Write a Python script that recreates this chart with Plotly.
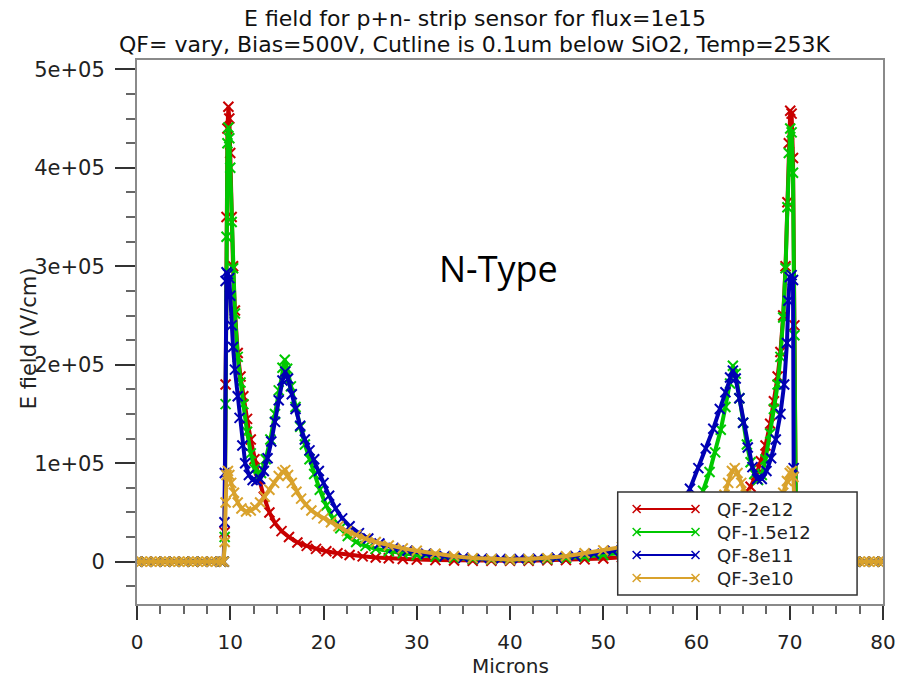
import plotly.graph_objects as go

# ---------------- data ----------------
x_red = [0, 1, 2, 3, 4, 5, 6, 7, 8, 9, 9.3, 9.4, 9.5, 9.6, 9.7, 9.8, 9.9, 10.0, 10.15, 10.3,
         10.5, 10.8, 11.1, 11.4, 11.8, 12.2, 12.6, 13.1, 13.6, 14.2, 14.8, 15.5, 16.3, 17.2,
         18.2, 19.2, 20.3, 21.5, 22.8, 24.2, 25.6, 27, 28.5, 30, 32, 34, 36, 38, 40, 42, 44,
         46, 48, 50, 52, 54, 56, 57.5, 59, 60.5, 62, 63, 64, 65, 65.8, 66.4, 66.9, 67.4, 67.9,
         68.3, 68.7, 69.0, 69.3, 69.55, 69.75, 69.9, 70.05, 70.2, 70.35, 70.5, 70.6, 70.7,
         71, 72, 73, 74, 75, 76, 77, 78, 79, 80]
y_red = [0, 0, 0, 0, 0, 0, 0, 0, 0, 0, 0, 30000, 180000, 350000, 440000, 462000, 450000,
         415000, 350000, 300000, 255000, 212000, 188000, 168000, 145000, 124000, 104000,
         84000, 66000, 50000, 39000, 31000, 25000, 19500, 16000, 13000, 10500, 8500, 6800,
         5400, 4300, 3400, 2700, 2100, 1600, 1200, 1000, 900, 900, 1000, 1300, 1700, 2300,
         3200, 4500, 6000, 8500, 11000, 15000, 21000, 31000, 40000, 52000, 65000, 76000,
         88000, 102000, 118000, 140000, 163000, 188000, 213000, 250000, 300000, 365000,
         425000, 458000, 455000, 410000, 240000, 60000, 0,
         0, 0, 0, 0, 0, 0, 0, 0, 0, 0]

x_green = [0, 1, 2, 3, 4, 5, 6, 7, 8, 9, 9.3, 9.4, 9.5, 9.6, 9.7, 9.8, 9.9, 10.0, 10.15,
           10.3, 10.5, 10.8, 11.1, 11.4, 11.8, 12.2, 12.6, 12.9, 13.3, 13.8, 14.3, 14.8,
           15.2, 15.6, 15.85, 16.1, 16.5, 17.0, 17.5, 18.0, 18.5, 19.0, 19.6, 20.3, 21.0,
           21.8, 22.6, 23.5, 24.5, 25.6, 27, 28.5, 30, 32, 34, 36, 38, 40, 42, 44, 46, 48,
           50, 52, 54, 55.5, 56.5, 57.5, 58.5, 59.3, 60, 60.7, 61.4, 62.0, 62.6, 63.1, 63.6,
           63.9, 64.2, 64.6, 65.0, 65.4, 65.8, 66.2, 66.6, 67.0, 67.4, 67.9, 68.3, 68.7,
           69.0, 69.3, 69.55, 69.75, 69.9, 70.05, 70.2, 70.35, 70.5, 70.6, 70.7,
           71, 72, 73, 74, 75, 76, 77, 78, 79, 80]
y_green = [0, 0, 0, 0, 0, 0, 0, 0, 0, 0, 0, 25000, 160000, 330000, 425000, 441000, 430000,
           400000, 345000, 298000, 252000, 208000, 182000, 160000, 132000, 110000, 94000,
           87000, 90000, 104000, 124000, 150000, 174000, 197000, 205000, 196000, 178000,
           157000, 137000, 119000, 104000, 89000, 73000, 57000, 44000, 34000, 26000, 20000,
           16000, 13000, 10500, 8500, 6800, 5000, 3600, 2700, 2100, 1900, 2100, 2700, 3600,
           5000, 6800, 9000, 12500, 16500, 21000, 27000, 36000, 46000, 58000, 72000, 91000,
           111000, 134000, 157000, 181000, 199000, 191000, 166000, 141000, 119000, 101000,
           89000, 83000, 88000, 104000, 130000, 155000, 180000, 208000, 248000, 298000,
           360000, 415000, 440000, 436000, 395000, 230000, 50000, 0,
           0, 0, 0, 0, 0, 0, 0, 0, 0, 0]

x_blue = [0, 1, 2, 3, 4, 5, 6, 7, 8, 9, 9.3, 9.38, 9.42, 9.5, 9.6, 9.75, 9.9, 10.0, 10.15,
          10.3, 10.5, 10.8, 11.0, 11.3, 11.6, 12.0, 12.4, 12.8, 13.2, 13.6, 14.0, 14.4,
          14.8, 15.2, 15.6, 15.9, 16.2, 16.6, 17.0, 17.5, 18.0, 18.5, 19.0, 19.5, 20.0,
          20.6, 21.3, 22.0, 22.8, 23.8, 24.8, 26, 27.5, 29, 31, 33, 35, 37, 39, 41, 43, 45,
          47, 49, 51, 53, 55, 56.5, 57.5, 58.4, 59.3, 60.2, 61.0, 61.8, 62.5, 63.1, 63.6,
          63.9, 64.2, 64.6, 65.0, 65.5, 66.0, 66.5, 67.0, 67.5, 68.0, 68.5, 69.0, 69.4,
          69.7, 69.85, 70.0, 70.2, 70.35, 70.42, 70.5, 70.6,
          71, 72, 73, 74, 75, 76, 77, 78, 79, 80]
y_blue = [0, 0, 0, 0, 0, 0, 0, 0, 0, 0, 0, 40000, 90000, 285000, 294000, 292000, 288000,
          270000, 240000, 218000, 195000, 168000, 146000, 118000, 100000, 88000, 83000,
          82000, 84000, 92000, 105000, 122000, 142000, 164000, 184000, 193000, 186000,
          170000, 155000, 138000, 124000, 113000, 104000, 92000, 80000, 67000, 54000,
          44000, 36000, 29000, 23500, 18500, 14000, 11000, 8000, 5600, 4000, 3100, 2700,
          2700, 3100, 4100, 5800, 8200, 11000, 15000, 21000, 29000, 39000, 54000, 74000,
          95000, 115000, 135000, 155000, 172000, 187000, 194000, 186000, 166000, 141000,
          116000, 96000, 84000, 84000, 92000, 105000, 124000, 150000, 180000, 222000,
          265000, 289000, 291000, 286000, 95000, 30000, 0,
          0, 0, 0, 0, 0, 0, 0, 0, 0, 0]

x_gold = [0, 0.5, 1, 1.5, 2, 2.5, 3, 3.5, 4, 4.5, 5, 5.5, 6, 6.5, 7, 7.5, 8, 8.5, 9, 9.3,
          9.4, 9.5, 9.6, 9.75, 9.9, 10.1, 10.4, 10.8, 11.2, 11.7, 12.2, 12.7, 13.2, 13.7,
          14.2, 14.7, 15.2, 15.6, 15.9, 16.2, 16.6, 17.1, 17.6, 18.1, 18.7, 19.3, 20.0,
          20.8, 21.6, 22.5, 23.5, 24.5, 25.6, 27, 28.5, 30, 32, 34, 36, 38, 40, 42, 44, 46,
          48, 50, 52, 54, 55.5, 57, 58.5, 59.5, 60.5, 61.5, 62.3, 63.0, 63.4, 63.8, 64.1,
          64.4, 64.8, 65.3, 66.0, 66.8, 67.5, 68.2, 68.8, 69.3, 69.7, 70.0, 70.2, 70.4,
          70.5, 70.6, 71, 71.5, 72, 72.5, 73, 73.5, 74, 74.5, 75, 75.5, 76, 76.5, 77, 77.5,
          78, 78.5, 79, 79.5, 80]
y_gold = [0, 0, 0, 0, 0, 0, 0, 0, 0, 0, 0, 0, 0, 0, 0, 0, 0, 0, 0, 0,
          20000, 60000, 88000, 92000, 88000, 80000, 70000, 60000, 54000, 51000, 52000,
          55000, 60000, 66000, 73000, 80000, 87000, 91000, 93000, 88000, 80000, 71000,
          64000, 58000, 52000, 48000, 44000, 40000, 36000, 31000, 27000, 23500, 20000,
          16500, 13500, 11000, 8000, 5500, 3600, 2600, 2200, 2600, 3600, 5500, 8500, 11500,
          15000, 19000, 23000, 27000, 32000, 36000, 40000, 46000, 54000, 68000, 80000,
          92000, 95000, 90000, 80000, 68000, 58000, 52000, 52000, 56000, 62000, 70000,
          82000, 90000, 92000, 86000, 55000, 0,
          0, 0, 0, 0, 0, 0, 0, 0, 0, 0, 0, 0, 0, 0, 0, 0, 0, 0, 0]

series_names = ["QF-2e12", "QF-1.5e12", "QF-8e11", "QF-3e10"]
series_colors = ["#c80000", "#00c800", "#0000b4", "#d9a22c"]
series_x = [x_red, x_green, x_blue, x_gold]
series_y = [y_red, y_green, y_blue, y_gold]

y_tickvals = [0, 100000, 200000, 300000, 400000, 500000]
y_ticktext = ["0", "1e+05", "2e+05", "3e+05", "4e+05", "5e+05"]

title_1 = "E field for p+n- strip sensor for flux=1e15"
title_2 = "QF= vary, Bias=500V, Cutline is 0.1um below SiO2, Temp=253K"

# ---------------- layout geometry ----------------
W, H = 908, 678
ML, MR, MT, MB = 137, 23, 60, 74
PW, PH = W - ML - MR, H - MT - MB


def px_x(px):
    return (px - ML) / PW


def px_y(py):
    return (H - MB - py) / PH


FONT = "DejaVu Sans"
TXT = "#222222"

fig = go.Figure()
for name, xs, ys, col in zip(series_names, series_x, series_y, series_colors):
    fig.add_trace(go.Scatter(
        x=xs, y=ys, mode="lines+markers", name=name, showlegend=False,
        line=dict(color=col, width=4),
        marker=dict(symbol="x-thin", size=10, color=col, line=dict(width=2, color=col)),
    ))

axis_common = dict(
    showline=True, linecolor="#8a8a8a", linewidth=2, mirror=True,
    showgrid=False, zeroline=False, ticks="outside", tickcolor="#333333", tickwidth=2,
)
fig.update_xaxes(range=[0, 80], tick0=0, dtick=10, ticklen=14, ticklabelstandoff=5,
                 tickfont=dict(family=FONT, size=20, color=TXT),
                 minor=dict(dtick=2.5, ticks="outside", ticklen=8, tickcolor="#666666", tickwidth=1.5),
                 **axis_common)
fig.update_yaxes(range=[-43000, 509500], tickmode="array", tickvals=y_tickvals, ticktext=y_ticktext,
                 ticklen=20, ticklabelstandoff=6,
                 tickfont=dict(family=FONT, size=21, color=TXT),
                 minor=dict(tickmode="linear", tick0=0, dtick=25000, ticks="outside", ticklen=9,
                            tickcolor="#666666", tickwidth=1.5),
                 **axis_common)

annotations = [
    dict(text=title_1, x=px_x(476), y=px_y(18), xref="paper", yref="paper", showarrow=False,
         xanchor="center", yanchor="middle", font=dict(family=FONT, size=22, color="#111111")),
    dict(text=title_2, x=px_x(476), y=px_y(44), xref="paper", yref="paper", showarrow=False,
         xanchor="center", yanchor="middle", font=dict(family=FONT, size=22, color="#111111")),
    dict(text="E field (V/cm)", x=px_x(29), y=px_y(338), xref="paper", yref="paper",
         showarrow=False, textangle=-90, xanchor="center", yanchor="middle",
         font=dict(family=FONT, size=21, color=TXT)),
    dict(text="Microns", x=px_x(512), y=px_y(666), xref="paper", yref="paper", showarrow=False,
         xanchor="center", yanchor="middle", font=dict(family=FONT, size=20, color=TXT)),
    dict(text="N-Type", x=px_x(499), y=px_y(268), xref="paper", yref="paper", showarrow=False,
         xanchor="center", yanchor="middle", font=dict(family="Open Sans", size=36, color="#000000")),
]

shapes = [dict(type="rect", xref="paper", yref="paper", x0=px_x(619), x1=px_x(859),
               y0=px_y(595), y1=px_y(492), line=dict(color="#333333", width=1.5),
               fillcolor="white", layer="above")]
row_py = [509, 532, 555, 578]
lx0, lx1, tx = 638, 697, 717
m = 4
for name, col, py in zip(series_names, series_colors, row_py):
    shapes.append(dict(type="line", xref="paper", yref="paper", x0=px_x(lx0), x1=px_x(lx1),
                       y0=px_y(py), y1=px_y(py), line=dict(color=col, width=2), layer="above"))
    for cx in (lx0, lx1):
        shapes.append(dict(type="line", xref="paper", yref="paper", x0=px_x(cx - m), x1=px_x(cx + m),
                           y0=px_y(py - m), y1=px_y(py + m), line=dict(color=col, width=1.5), layer="above"))
        shapes.append(dict(type="line", xref="paper", yref="paper", x0=px_x(cx - m), x1=px_x(cx + m),
                           y0=px_y(py + m), y1=px_y(py - m), line=dict(color=col, width=1.5), layer="above"))
    annotations.append(dict(text=name, x=px_x(tx), y=px_y(py), xref="paper", yref="paper",
                            showarrow=False, xanchor="left", yanchor="middle",
                            font=dict(family=FONT, size=18, color=TXT)))

fig.update_layout(
    width=W, height=H, autosize=False,
    margin=dict(l=ML, r=MR, t=MT, b=MB, pad=0),
    paper_bgcolor="white", plot_bgcolor="white",
    showlegend=False, annotations=annotations, shapes=shapes,
)

fig.write_html("out.html")
